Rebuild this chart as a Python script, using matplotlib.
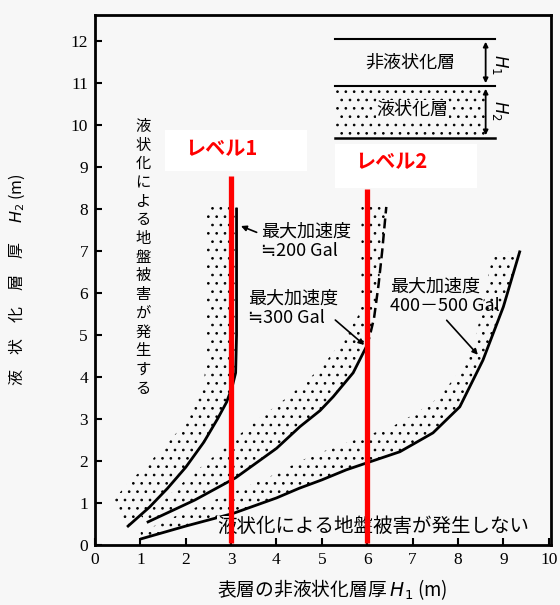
import numpy as np
import matplotlib
matplotlib.use("Agg")
import matplotlib.pyplot as plt
from matplotlib.patches import Rectangle

plt.rcParams['font.family'] = ['Noto Sans CJK JP', 'DejaVu Sans']
plt.rcParams['hatch.linewidth'] = 0.7
plt.rcParams['hatch.color'] = 'black'

BG = '#f7f7f7'

# solid boundary curves (H1, H2)
c200_x = [0.73, 1.2, 1.6, 2.0, 2.4, 2.7, 2.9, 3.02, 3.1, 3.12, 3.12]
c200_y = [0.45, 0.9, 1.35, 1.85, 2.45, 3.0, 3.4, 3.75, 4.1, 5.0, 8.0]
c300_x = [1.17, 2.2, 3.1, 4.0, 4.52, 4.96, 5.25, 5.69, 5.98]
c300_y = [0.55, 1.07, 1.6, 2.3, 2.82, 3.2, 3.53, 4.1, 4.72]
c300_dash_x = [5.98, 6.05, 6.15, 6.25, 6.33, 6.42]
c300_dash_y = [4.72, 4.95, 5.4, 6.2, 7.0, 8.05]
c400_x = [1.03, 2.0, 3.04, 4.0, 4.5, 5.0, 5.54, 6.06, 6.72, 7.45, 8.04, 8.55, 9.0, 9.36]
c400_y = [0.15, 0.45, 0.75, 1.12, 1.35, 1.55, 1.79, 1.98, 2.22, 2.67, 3.29, 4.4, 5.67, 6.98]

# outer (upper-left) edges of the dotted bands
b200_x = [0.4, 0.7, 1.1, 1.5, 1.9, 2.24, 2.4, 2.46, 2.46]
b200_y = [1.05, 1.45, 1.86, 2.3, 2.8, 3.4, 3.9, 4.5, 8.1]
b300_x = [1.0, 1.5, 2.0, 2.5, 3.04, 3.6, 4.1, 4.52, 4.96, 5.3, 5.6, 5.82, 5.87, 5.87]
b300_y = [0.7, 1.05, 1.55, 2.0, 2.5, 3.0, 3.4, 3.77, 4.2, 4.65, 5.1, 5.5, 6.0, 8.05]
b400_x = [1.0, 2.0, 3.04, 4.0, 4.52, 5.2, 5.98, 6.6, 7.08, 7.5, 7.89, 8.2, 8.41, 8.6, 8.77]
b400_y = [0.3, 0.8, 1.25, 1.7, 2.0, 2.3, 2.6, 2.85, 3.14, 3.45, 3.93, 4.4, 5.04, 6.0, 6.98]

# level lines
level_x = [3, 6]
level_top = [8.79, 8.48]
level_names = ['レベル1', 'レベル2']

fig = plt.figure(figsize=(5.6, 6.05), dpi=100, facecolor=BG)
ax = fig.add_axes([0.1696, 0.0992, 0.8143, 0.876], facecolor=BG)
ax.set_xlim(0, 10.05)
ax.set_ylim(0, 12.62)


def band(ox, oy, sx, sy):
    px = list(ox) + list(sx[::-1])
    py = list(oy) + list(sy[::-1])
    ax.fill(px, py, facecolor='none', edgecolor='black', hatch='..', lw=0)


band(b200_x, b200_y, c200_x + [3.12], c200_y + [8.1])
band(b300_x, b300_y, c300_x + c300_dash_x[1:], c300_y + c300_dash_y[1:])
band(b400_x, b400_y, c400_x, c400_y)

ax.plot(c200_x, c200_y, color='black', lw=2)
ax.plot(c300_x, c300_y, color='black', lw=2)
ax.plot(c300_dash_x, c300_dash_y, color='black', lw=1.8, ls=(0, (4, 2)))
ax.plot(c400_x, c400_y, color='black', lw=2)

# labels with arrows
lab_kw = dict(fontsize=13, color='black', va='center', linespacing=1.1)
ax.text(3.66, 7.22, '最大加速度\n≒200 Gal', ha='left', **lab_kw)
ax.annotate('', xy=(3.16, 7.62), xytext=(3.62, 7.42),
            arrowprops=dict(arrowstyle='-|>', color='black', lw=1.2, mutation_scale=8))
ax.text(3.38, 5.64, '最大加速度\n≒300 Gal', ha='left', **lab_kw)
ax.annotate('', xy=(5.98, 4.72), xytext=(5.25, 5.4),
            arrowprops=dict(arrowstyle='-|>', color='black', lw=1.2, mutation_scale=8))
ax.text(6.5, 5.91, '最大加速度\n400－500 Gal', ha='left', **lab_kw)
ax.annotate('', xy=(8.48, 4.48), xytext=(7.71, 5.4),
            arrowprops=dict(arrowstyle='-|>', color='black', lw=1.2, mutation_scale=8))

ax.text(1.06, 10.17, '\n'.join('液状化による地盤被害が発生する'), ha='center', va='top',
        fontsize=11, linespacing=1.13)
ax.text(2.7, 0.43, '液状化による地盤被害が発生しない', ha='left', va='center', fontsize=14,
        bbox=dict(facecolor=BG, edgecolor='none', pad=0.3))

# soil layer sketch
ax.plot([5.29, 8.81], [12.05, 12.05], color='black', lw=1.5)
ax.plot([5.29, 8.81], [10.93, 10.93], color='black', lw=1.5)
ax.plot([5.29, 8.81], [9.69, 9.69], color='black', lw=1.8)
ax.add_patch(Rectangle((5.29, 9.69), 3.32, 1.24, facecolor='none', edgecolor='black',
                       lw=0, hatch='..'))
ax.annotate('', xy=(8.61, 12.05), xytext=(8.61, 10.93),
            arrowprops=dict(arrowstyle='<|-|>', color='black', lw=1.3, mutation_scale=7))
ax.annotate('', xy=(8.61, 10.93), xytext=(8.61, 9.69),
            arrowprops=dict(arrowstyle='<|-|>', color='black', lw=1.3, mutation_scale=7))
ax.text(6.94, 11.48, '非液状化層', ha='center', va='center', fontsize=13)
ax.text(7.0, 10.36, '液状化層', ha='center', va='center', fontsize=13,
        bbox=dict(facecolor=BG, edgecolor='none', pad=0.5))
ax.text(8.92, 11.45, '$H_1$', rotation=-90, ha='center', va='center', fontsize=12)
ax.text(8.92, 10.36, '$H_2$', rotation=-90, ha='center', va='center', fontsize=12)

# level lines and their boxes
ax.add_patch(Rectangle((1.54, 8.9), 3.13, 0.98, facecolor='white', edgecolor='none', zorder=4))
ax.add_patch(Rectangle((5.29, 8.5), 3.12, 1.05, facecolor='white', edgecolor='none', zorder=4))
ax.vlines(level_x, 0.05, level_top, color='#ff0000', lw=3.8, zorder=5)
ax.text(2.78, 9.45, level_names[0], color='#ff0000', fontsize=14.5, fontweight='bold',
        ha='center', va='center', zorder=6)
ax.text(6.52, 9.12, level_names[1], color='#ff0000', fontsize=14.5, fontweight='bold',
        ha='center', va='center', zorder=6)

# axes
for s in ax.spines.values():
    s.set_linewidth(2)
ax.set_xticks(range(0, 11))
ax.set_yticks(range(0, 13))
ax.tick_params(direction='in', length=5, width=1.5, labelsize=12.5, pad=5)
for lbl in ax.get_xticklabels() + ax.get_yticklabels():
    lbl.set_family('Liberation Serif')
ax.set_xlabel('表層の非液状化層厚 $H_1$ (m)', fontsize=13.5)
ax.xaxis.set_label_coords(0.52, -0.06)
ax.set_ylabel('液\u3000状\u3000化\u3000層\u3000厚\u3000 $H_2$ (m)', fontsize=11.5)
ax.yaxis.set_label_coords(-0.15, 0.5)

fig.savefig('out.png', dpi=100, facecolor=BG)
